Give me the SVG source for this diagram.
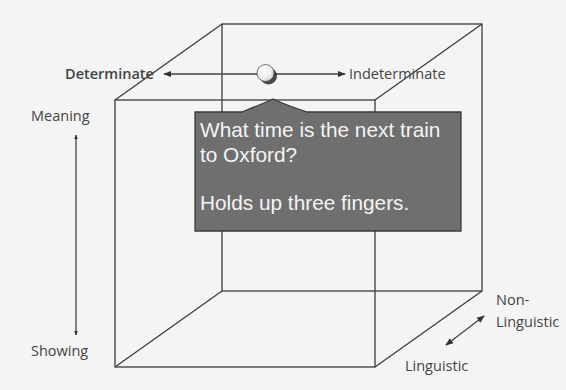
<svg xmlns="http://www.w3.org/2000/svg" width="566" height="390" viewBox="0 0 566 390">
  <defs>
    <style>
      .edge { fill: none; stroke: #3c3c3c; stroke-width: 1.3; }
      .axis { fill: none; stroke: #444; stroke-width: 1.3; }
      .lbl { font-family: "Open Sans", "Liberation Sans", sans-serif; font-size: 14.5px; fill: #444; }
      .card { font-family: "Liberation Sans", Arial, sans-serif; font-size: 20.8px; fill: #f4f4f4; }
    </style>
    <marker id="tip" viewBox="0 0 10 10" refX="9" refY="5" markerWidth="6" markerHeight="6" orient="auto-start-reverse">
      <path d="M0,1 L10,5 L0,9 Z" fill="#333"/>
    </marker>
    <marker id="tipSmall" viewBox="0 0 10 10" refX="9" refY="5" markerWidth="3.5" markerHeight="3.5" orient="auto-start-reverse">
      <path d="M0,1 L10,5 L0,9 Z" fill="#333"/>
    </marker>
    <radialGradient id="ballFill" cx="0.4" cy="0.35" r="0.7">
      <stop offset="0" stop-color="#ffffff"/>
      <stop offset="0.7" stop-color="#ececec"/>
      <stop offset="1" stop-color="#bdbdbd"/>
    </radialGradient>
  </defs>

  <rect width="566" height="390" fill="#f4f4f4"/>

  <!-- wireframe cube -->
  <g id="cube">
    <rect class="edge" x="222" y="24" width="260" height="267"/>
    <rect class="edge" x="115" y="100" width="260" height="267"/>
    <line class="edge" x1="115" y1="100" x2="222" y2="24"/>
    <line class="edge" x1="375" y1="100" x2="482" y2="24"/>
    <line class="edge" x1="115" y1="367" x2="222" y2="291"/>
    <line class="edge" x1="375" y1="367" x2="482" y2="291"/>
  </g>

  <!-- axis arrows -->
  <g id="connectors">
    <line class="axis" x1="258" y1="74" x2="164" y2="74" marker-end="url(#tip)"/>
    <line class="axis" x1="274" y1="74" x2="345" y2="74" marker-end="url(#tip)"/>
    <line class="axis" x1="76" y1="135" x2="76" y2="335" stroke="#6a6a6a" stroke-width="2.6" marker-start="url(#tipSmall)" marker-end="url(#tipSmall)"/>
    <line class="axis" x1="484" y1="316" x2="446" y2="345" marker-start="url(#tip)" marker-end="url(#tip)"/>
  </g>

  <!-- marker ball on the determinacy axis -->
  <g id="ball">
    <circle cx="268.5" cy="76" r="8.5" fill="#2a2a2a" opacity="0.85"/>
    <circle cx="265.5" cy="73" r="8.5" fill="url(#ballFill)" stroke="#555" stroke-width="0.8"/>
  </g>

  <!-- axis labels -->
  <g id="determinate"><text class="lbl" x="65" y="79" font-weight="600" fill="#333">Determinate</text></g>
  <g id="indeterminate"><text class="lbl" x="349" y="79">Indeterminate</text></g>
  <g id="meaning"><text class="lbl" x="31" y="121">Meaning</text></g>
  <g id="showing"><text class="lbl" x="31" y="356">Showing</text></g>
  <g id="non-linguistic">
    <text class="lbl" x="496" y="305">Non-</text>
    <text class="lbl" x="496" y="327">Linguistic</text>
  </g>
  <g id="linguistic"><text class="lbl" x="405" y="371">Linguistic</text></g>

  <!-- callout card -->
  <g id="callout">
    <path d="M195,112 L242,112 Q262,104 273,99 Q286,105 307,112 L461,112 L461,231 L195,231 Z" fill="#6f6f6f" stroke="#3a3a3a" stroke-width="1.3"/>
    <text class="card" x="200" y="137">What time is the next train</text>
    <text class="card" x="200" y="162">to Oxford?</text>
    <text class="card" x="200" y="210">Holds up three fingers.</text>
  </g>
</svg>
